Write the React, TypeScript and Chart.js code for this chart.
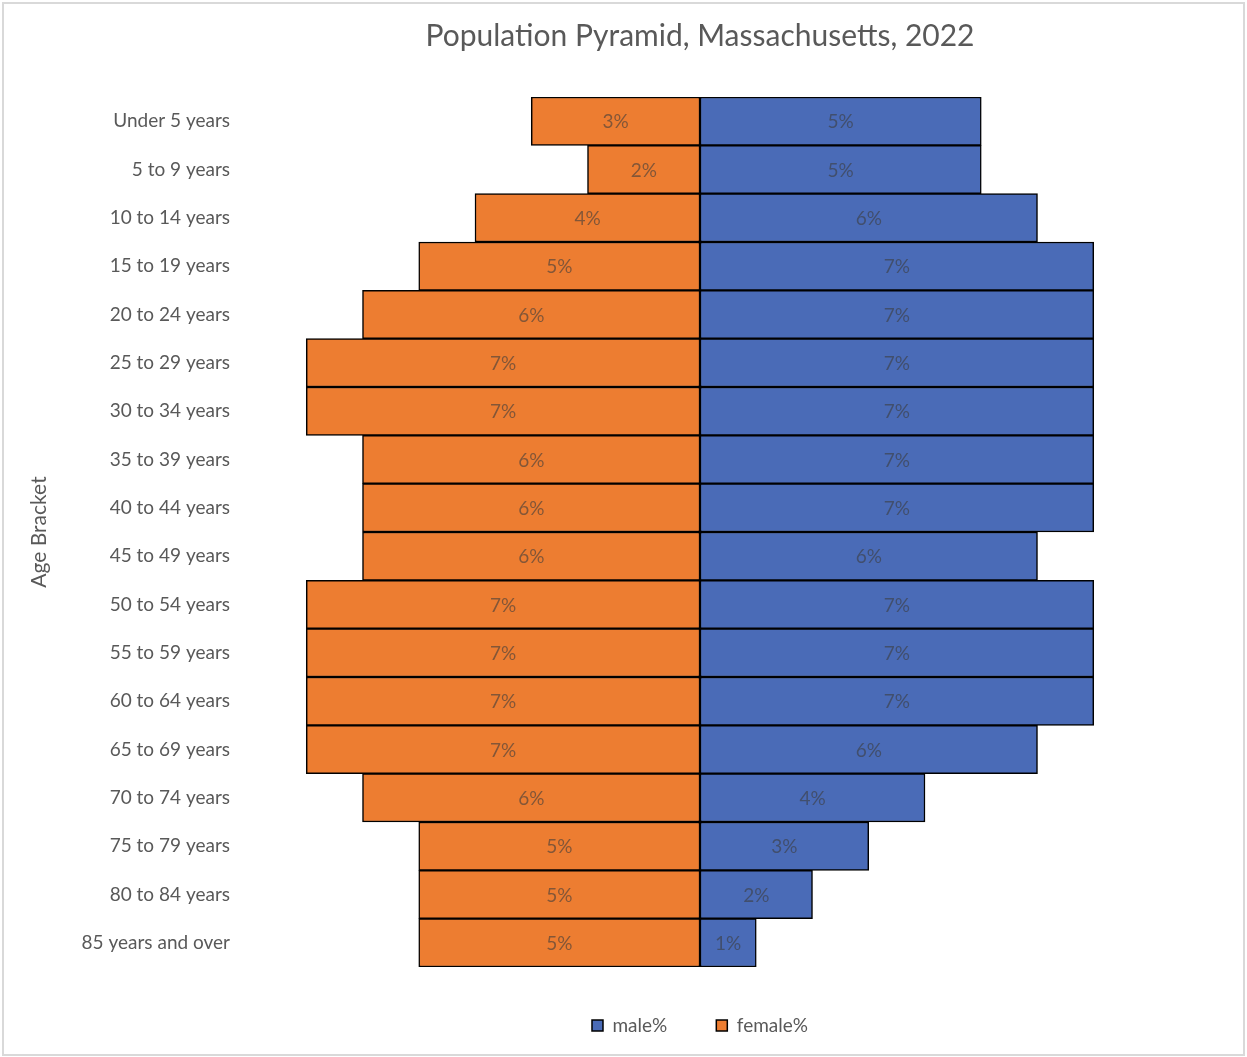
import React, { useEffect, useRef } from "react";
import { Chart, registerables } from "chart.js";

Chart.register(...registerables);

const ageBrackets = [
  "Under 5 years",
  "5 to 9 years",
  "10 to 14 years",
  "15 to 19 years",
  "20 to 24 years",
  "25 to 29 years",
  "30 to 34 years",
  "35 to 39 years",
  "40 to 44 years",
  "45 to 49 years",
  "50 to 54 years",
  "55 to 59 years",
  "60 to 64 years",
  "65 to 69 years",
  "70 to 74 years",
  "75 to 79 years",
  "80 to 84 years",
  "85 years and over",
];

const malePct = [5, 5, 6, 7, 7, 7, 7, 7, 7, 6, 7, 7, 7, 6, 4, 3, 2, 1];
const femalePct = [3, 2, 4, 5, 6, 7, 7, 6, 6, 6, 7, 7, 7, 7, 6, 5, 5, 5];

const FONT = "Lato, 'Open Sans', sans-serif";
const GRAY = "#595959";

const frameAndLabels = {
  id: "frameAndLabels",
  beforeDraw(chart: any) {
    const ctx = chart.ctx;
    ctx.save();
    ctx.fillStyle = "#ffffff";
    ctx.fillRect(0, 0, chart.width, chart.height);
    ctx.strokeStyle = "#d9d9d9";
    ctx.lineWidth = 2;
    ctx.strokeRect(3, 3, chart.width - 6, chart.height - 5);
    ctx.restore();
  },
  afterDatasetsDraw(chart: any) {
    const ctx = chart.ctx;
    ctx.save();
    ctx.font = `19px ${FONT}`;
    ctx.fillStyle = "rgba(60,60,60,0.6)";
    ctx.textAlign = "center";
    ctx.textBaseline = "middle";
    chart.data.datasets.forEach((ds: any, di: number) => {
      const meta = chart.getDatasetMeta(di);
      meta.data.forEach((el: any, i: number) => {
        const p = el.getProps(["x", "base", "y"], true);
        const v = Math.abs(ds.data[i]);
        ctx.fillText(`${v}%`, (p.x + p.base) / 2, p.y + 1);
      });
    });
    ctx.restore();
  },
};

export default function App() {
  const ref = useRef<HTMLCanvasElement | null>(null);

  useEffect(() => {
    if (!ref.current) return;
    const chart = new Chart(ref.current, {
      type: "bar",
      data: {
        labels: ageBrackets,
        datasets: [
          {
            label: "male%",
            data: malePct,
            backgroundColor: "#4A6BB7",
            borderColor: "#000000",
            borderWidth: 1.5,
            borderSkipped: false,
            categoryPercentage: 1,
            barPercentage: 1,
          },
          {
            label: "female%",
            data: femalePct.map((v) => -v),
            backgroundColor: "#ED7D31",
            borderColor: "#000000",
            borderWidth: 1.5,
            borderSkipped: false,
            categoryPercentage: 1,
            barPercentage: 1,
          },
        ],
      },
      options: {
        indexAxis: "y",
        responsive: false,
        animation: false,
        layout: { padding: { left: 0, right: 97, top: 0, bottom: 12 } },
        scales: {
          x: {
            display: false,
            stacked: true,
            min: -8,
            max: 8,
          },
          y: {
            stacked: true,
            grid: { display: false, drawTicks: false },
            border: { display: false },
            ticks: {
              color: GRAY,
              font: { family: FONT, size: 19 },
              padding: 20,
            },
            title: {
              display: true,
              text: "Age Bracket",
              color: GRAY,
              font: { family: FONT, size: 21 },
              padding: { top: 27, bottom: 0 },
            },
            afterFit: (scale: any) => {
              scale.width = 250;
            },
          },
        },
        plugins: {
          title: {
            display: true,
            fullSize: false,
            text: "Population Pyramid, Massachusetts, 2022",
            color: GRAY,
            font: { family: FONT, size: 30, weight: "normal" },
            padding: { top: 18, bottom: 43 },
          },
          legend: {
            display: true,
            position: "bottom",
            fullSize: false,
            labels: {
              color: GRAY,
              font: { family: FONT, size: 19 },
              boxWidth: 11,
              boxHeight: 11,
              padding: 49,
            },
          },
          tooltip: { enabled: false },
        },
      },
      plugins: [frameAndLabels],
    });
    return () => chart.destroy();
  }, []);

  return (
    <div style={{ position: "absolute", left: 0, top: 0, width: 1247, height: 1057 }}>
      <canvas ref={ref} width={1247} height={1057} />
    </div>
  );
}
